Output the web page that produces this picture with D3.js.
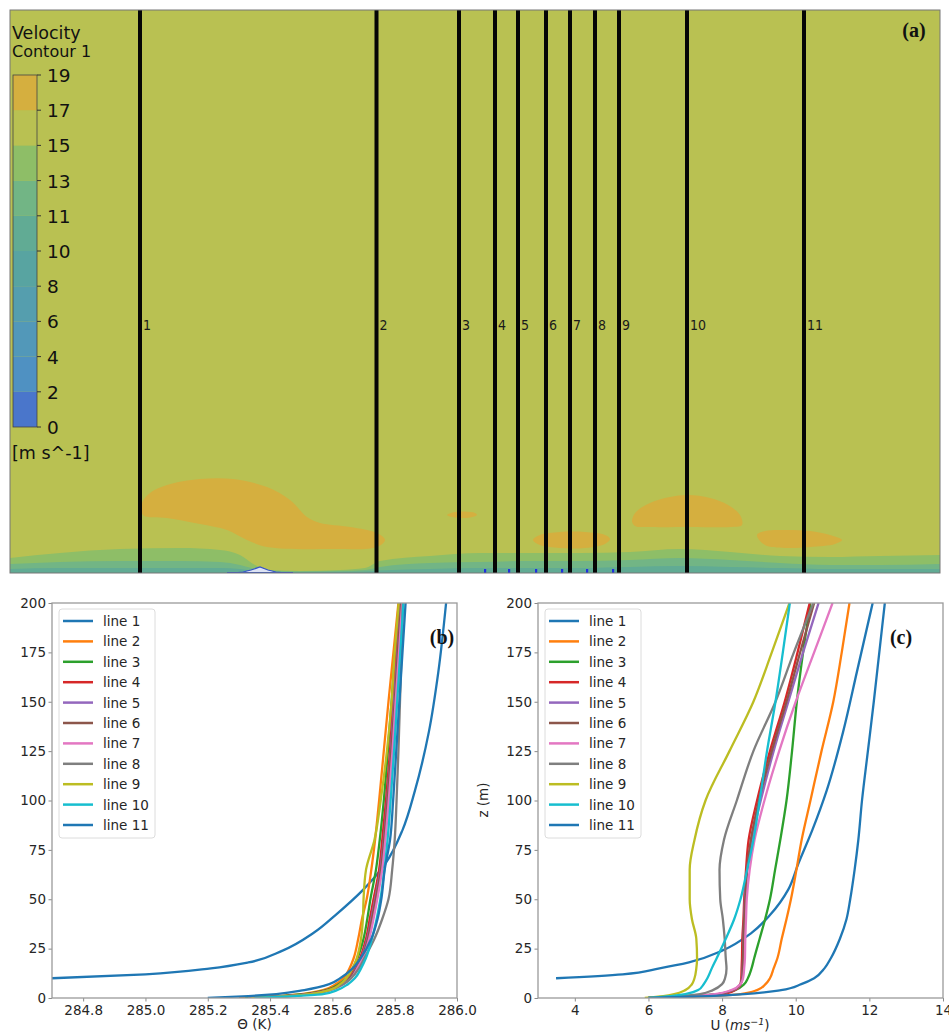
<!DOCTYPE html>
<html>
<head>
<meta charset="utf-8">
<script src="https://cdn.jsdelivr.net/npm/d3@7"></script>
<style>
  body { margin: 0; background: #fff; }
  svg { display: block; }
</style>
</head>
<body>
<svg id="fig" width="949" height="1034"></svg>
<script>
// ---------- (a) velocity contour ----------
const probeLabels = ['1', '2', '3', '4', '5', '6', '7', '8', '9', '10', '11'];
const probePositions = [130, 366.5, 449, 485, 508, 536, 560, 585, 609, 677, 794];
const colorLevels = [0, 2, 4, 6, 8, 10, 11, 13, 15, 17, 19];
const bandColors = ['#4a76cb', '#4f91c2', '#5298b9', '#559eae', '#58a4a1',
                    '#61ab94', '#72b585', '#8ebe67', '#b9c152', '#d5af3f'];

// near-ground velocity bands: top height of each band along the domain
const bandX    = [0, 50, 110, 170, 210, 230, 245, 260, 290, 330, 355, 370, 420, 470, 520, 570, 620, 670, 720, 770, 820, 870, 930];
const band13Top = [15, 20, 24, 25, 23, 18, 8, 3, 2, 3, 5, 12, 17, 20, 20, 20, 21, 24, 21, 17, 16, 17, 18];
const band11Top = [9, 11, 12, 12, 11, 8, 4, 2, 1.5, 2, 3, 6, 10, 11, 12, 12, 13, 15, 13, 10, 8, 8, 9];
const band10Top = [4, 5, 5, 5, 5, 4, 2, 1, 1, 1, 1.5, 2.5, 4, 5, 5, 5, 6, 7, 6, 5, 4, 4, 4];

// high-speed (17-19) pockets
const jetWake = [[132, 70], [140, 80], [157, 88], [190, 94], [223, 94], [257, 86], [280, 73], [297, 56],
                 [310, 50], [340, 46], [367, 40], [375, 33], [367, 26], [323, 24], [257, 26], [237, 33],
                 [217, 43], [190, 49], [157, 55], [133, 58]];
const jetSmall = [[437, 58], [445, 61], [455, 61.5], [465, 60], [467, 58], [460, 55.5], [445, 55.5]];
const jetMid   = [[523, 33], [530, 38], [550, 41], [575, 41], [595, 38], [600, 34], [595, 29], [575, 25], [550, 25], [530, 28]];
const jetDome  = [[622, 52], [626, 61], [640, 70], [660, 76], [678, 78], [700, 75], [718, 68], [730, 58],
                  [732, 48], [720, 46], [680, 46], [640, 46], [625, 47]];
const jetRight = [[747, 38], [755, 42], [775, 43], [800, 42], [820, 38], [832, 33], [825, 29], [800, 26], [775, 25], [755, 28]];
const hillProfile = [[223, 0], [233, 1], [241, 3], [250, 6], [258, 3], [266, 1], [277, 0]];
const obstacleX = [475, 499, 526, 552, 577, 603];

// ---------- (b), (c) profiles ----------
const lineNames = ['line 1', 'line 2', 'line 3', 'line 4', 'line 5', 'line 6',
                   'line 7', 'line 8', 'line 9', 'line 10', 'line 11'];
const palette = ['#1f77b4', '#ff7f0e', '#2ca02c', '#d62728', '#9467bd', '#8c564b',
                 '#e377c2', '#7f7f7f', '#bcbd22', '#17becf', '#1f77b4'];

const zLine1 = [10, 12, 15, 18, 24, 33, 42, 55, 68, 85, 105, 135, 165, 200];
const thetaLine1 = [284.70, 285.00, 285.21, 285.33, 285.44, 285.54, 285.61, 285.70, 285.77, 285.825, 285.865, 285.91, 285.94, 285.965];
const uLine1 = [3.49, 5.3, 6.3, 7.1, 8.0, 8.8, 9.3, 9.8, 10.07, 10.45, 10.84, 11.29, 11.66, 12.09];

const zLevels = [0, 1, 2, 4, 7, 10, 15, 20, 30, 40, 50, 65, 80, 100, 125, 150, 175, 200];
const thetaProfiles = [
  [285.30, 285.42, 285.50, 285.57, 285.61, 285.635, 285.655, 285.668, 285.683, 285.695, 285.71, 285.725, 285.737, 285.75, 285.765, 285.78, 285.796, 285.812],
  [285.32, 285.44, 285.51, 285.58, 285.62, 285.645, 285.665, 285.68, 285.70, 285.712, 285.722, 285.74, 285.752, 285.765, 285.778, 285.79, 285.802, 285.815],
  [285.33, 285.45, 285.52, 285.585, 285.625, 285.65, 285.672, 285.688, 285.708, 285.72, 285.732, 285.75, 285.76, 285.772, 285.785, 285.795, 285.806, 285.818],
  [285.335, 285.455, 285.525, 285.59, 285.63, 285.655, 285.676, 285.692, 285.712, 285.725, 285.737, 285.754, 285.765, 285.776, 285.788, 285.798, 285.809, 285.82],
  [285.335, 285.455, 285.525, 285.59, 285.63, 285.655, 285.677, 285.694, 285.714, 285.727, 285.739, 285.756, 285.766, 285.777, 285.789, 285.80, 285.81, 285.821],
  [285.34, 285.46, 285.53, 285.595, 285.635, 285.66, 285.68, 285.697, 285.718, 285.732, 285.744, 285.76, 285.77, 285.781, 285.793, 285.803, 285.814, 285.824],
  [285.33, 285.45, 285.53, 285.59, 285.635, 285.66, 285.685, 285.702, 285.735, 285.76, 285.78, 285.792, 285.80, 285.806, 285.812, 285.817, 285.822, 285.826],
  [285.34, 285.46, 285.53, 285.59, 285.625, 285.645, 285.665, 285.678, 285.692, 285.698, 285.70, 285.708, 285.735, 285.755, 285.775, 285.79, 285.80, 285.813],
  [285.35, 285.48, 285.57, 285.615, 285.65, 285.672, 285.692, 285.707, 285.727, 285.742, 285.754, 285.767, 285.777, 285.787, 285.798, 285.808, 285.818, 285.828],
  [285.20, 285.33, 285.42, 285.51, 285.59, 285.625, 285.665, 285.69, 285.725, 285.745, 285.757, 285.768, 285.785, 285.795, 285.805, 285.815, 285.825, 285.835]
];
const uProfiles = [
  [6.0, 7.6, 8.5, 8.95, 9.18, 9.3, 9.4, 9.5, 9.62, 9.75, 9.87, 10.02, 10.16, 10.4, 10.7, 11.02, 11.25, 11.46],
  [6.0, 7.0, 7.9, 8.35, 8.6, 8.7, 8.8, 8.87, 9.02, 9.17, 9.3, 9.44, 9.58, 9.75, 9.9, 10.03, 10.2, 10.4],
  [6.0, 7.3, 8.0, 8.35, 8.5, 8.52, 8.53, 8.54, 8.55, 8.58, 8.6, 8.65, 8.72, 8.95, 9.3, 9.7, 10.05, 10.38],
  [6.0, 7.2, 7.9, 8.3, 8.5, 8.54, 8.56, 8.57, 8.58, 8.6, 8.62, 8.68, 8.8, 9.05, 9.4, 9.8, 10.2, 10.62],
  [6.0, 7.2, 7.9, 8.3, 8.5, 8.55, 8.56, 8.57, 8.58, 8.6, 8.63, 8.68, 8.78, 9.0, 9.35, 9.75, 10.12, 10.5],
  [6.0, 7.1, 7.8, 8.25, 8.5, 8.57, 8.6, 8.62, 8.63, 8.65, 8.67, 8.75, 8.88, 9.15, 9.55, 10.0, 10.5, 11.0],
  [6.0, 6.9, 7.4, 7.75, 8.0, 8.08, 8.12, 8.1, 8.07, 8.02, 7.95, 7.93, 8.05, 8.4, 8.85, 9.45, 9.95, 10.48],
  [5.9, 6.4, 6.7, 7.0, 7.18, 7.25, 7.3, 7.32, 7.3, 7.18, 7.12, 7.12, 7.25, 7.55, 8.2, 8.85, 9.35, 9.83],
  [6.0, 6.6, 7.0, 7.35, 7.5, 7.6, 7.72, 7.85, 8.1, 8.33, 8.5, 8.68, 8.85, 9.02, 9.22, 9.45, 9.65, 9.84],
  [6.0, 7.6, 8.6, 9.6, 10.15, 10.5, 10.78, 10.95, 11.2, 11.38, 11.48, 11.6, 11.7, 11.8, 11.96, 12.12, 12.27, 12.42]
];
const zTicks = [0, 25, 50, 75, 100, 125, 150, 175, 200];
const thetaTicks = [284.8, 285.0, 285.2, 285.4, 285.6, 285.8, 286.0];
const uTicks = [4, 6, 8, 10, 12, 14];

const svg = d3.select('#fig');
const SANS = '"DejaVu Sans", Verdana, sans-serif';

// ===== panel (a) =====
const xa = d3.scaleLinear().domain([0, 930]).range([10, 940]);
const ya = d3.scaleLinear().domain([0, 563]).range([573, 10]);
const gA = svg.append('g');
gA.append('defs').append('clipPath').attr('id', 'clipA')
  .append('rect').attr('x', xa(0)).attr('y', ya(563)).attr('width', xa(930) - xa(0)).attr('height', ya(0) - ya(563));
const fieldG = gA.append('g').attr('clip-path', 'url(#clipA)');
fieldG.append('rect').attr('x', xa(0)).attr('y', ya(563))
  .attr('width', xa(930) - xa(0)).attr('height', ya(0) - ya(563)).attr('fill', bandColors[8]);

const bandArea = d3.area().x(d => xa(d[0])).y0(ya(0)).y1(d => ya(d[1])).curve(d3.curveMonotoneX);
[[band13Top, bandColors[7]], [band11Top, bandColors[6]], [band10Top, bandColors[5]]].forEach(([tops, c]) => {
  fieldG.append('path').attr('d', bandArea(bandX.map((x, i) => [x, tops[i]]))).attr('fill', c);
});
const blobLine = d3.line().x(d => xa(d[0])).y(d => ya(d[1])).curve(d3.curveCatmullRomClosed.alpha(0.5));
[jetWake, jetSmall, jetMid, jetDome, jetRight].forEach(poly => {
  fieldG.append('path').attr('d', blobLine(poly)).attr('fill', bandColors[9]);
});
// terrain bump
fieldG.append('path')
  .attr('d', d3.line().x(d => xa(d[0])).y(d => ya(d[1])).curve(d3.curveLinear)(hillProfile) + 'Z')
  .attr('fill', '#dde3f4').attr('stroke', '#3553c9').attr('stroke-width', 1.2);
fieldG.append('line').attr('x1', xa(hillProfile[0][0]) - 6).attr('x2', xa(hillProfile[hillProfile.length - 1][0]) + 6)
  .attr('y1', ya(0) - 0.5).attr('y2', ya(0) - 0.5).attr('stroke', '#3553c9').attr('stroke-width', 1.2);
obstacleX.forEach(x => {
  fieldG.append('rect').attr('x', xa(x) - 1).attr('y', ya(4)).attr('width', 2.2).attr('height', ya(0) - ya(4))
    .attr('fill', '#1f2fe0');
});
// probe lines
probePositions.forEach((p, i) => {
  fieldG.append('line').attr('x1', xa(p)).attr('x2', xa(p)).attr('y1', ya(0)).attr('y2', ya(563))
    .attr('stroke', '#050505').attr('stroke-width', 4);
  gA.append('text').attr('x', xa(p) + 3).attr('y', 330)
    .attr('font-family', '"DejaVu Sans", sans-serif').attr('font-stretch', 'condensed')
    .attr('font-size', 14).attr('fill', '#1a1a1a').text(probeLabels[i]);
});
gA.append('rect').attr('x', xa(0)).attr('y', ya(563))
  .attr('width', xa(930) - xa(0)).attr('height', ya(0) - ya(563))
  .attr('fill', 'none').attr('stroke', '#777').attr('stroke-width', 1);

// colour bar
const cb = d3.scaleLinear().domain([0, colorLevels.length - 1]).range([427, 75]);
const cbG = gA.append('g');
bandColors.forEach((c, i) => {
  cbG.append('rect').attr('x', 13).attr('width', 24)
    .attr('y', cb(i + 1)).attr('height', cb(i) - cb(i + 1)).attr('fill', c);
});
cbG.append('rect').attr('x', 13).attr('width', 24).attr('y', cb(10)).attr('height', cb(0) - cb(10))
  .attr('fill', 'none').attr('stroke', '#444').attr('stroke-width', 0.8);
colorLevels.forEach((v, i) => {
  cbG.append('line').attr('x1', 37).attr('x2', 41).attr('y1', cb(i)).attr('y2', cb(i))
    .attr('stroke', '#333').attr('stroke-width', 1);
  cbG.append('text').attr('x', 47).attr('y', cb(i) + 7).attr('font-family', SANS)
    .attr('font-size', 18.5).attr('fill', '#111').text(v);
});
gA.append('text').attr('x', 12).attr('y', 39).attr('font-family', SANS).attr('font-size', 17.5).attr('fill', '#111').text('Velocity');
gA.append('text').attr('x', 12).attr('y', 57).attr('font-family', SANS).attr('font-size', 16).attr('fill', '#111').text('Contour 1');
gA.append('text').attr('x', 12).attr('y', 459).attr('font-family', SANS).attr('font-size', 17.5).attr('fill', '#111').text('[m s^-1]');
gA.append('text').attr('x', 914).attr('y', 37).attr('text-anchor', 'middle')
  .attr('font-family', '"Liberation Serif", "Times New Roman", serif').attr('font-weight', 'bold')
  .attr('font-size', 20).attr('fill', '#111').text('(a)');

// ===== panels (b) and (c) =====
function profilePanel(cfg) {
  const g = svg.append('g');
  const x = d3.scaleLinear().domain(cfg.xDomain).range([cfg.left, cfg.right]);
  const y = d3.scaleLinear().domain([0, 200]).range([998, 603]);
  g.append('defs').append('clipPath').attr('id', cfg.id)
    .append('rect').attr('x', cfg.left).attr('y', 603).attr('width', cfg.right - cfg.left).attr('height', 395);

  const line = d3.line().x(d => x(d[0])).y(d => y(d[1])).curve(d3.curveMonotoneY);
  const plot = g.append('g').attr('clip-path', `url(#${cfg.id})`);
  cfg.series.forEach((s, i) => {
    plot.append('path').attr('d', line(s)).attr('fill', 'none')
      .attr('stroke', palette[i]).attr('stroke-width', 2.3).attr('stroke-linejoin', 'round');
  });

  const xAxis = g.append('g').attr('transform', 'translate(0,998)')
    .call(d3.axisBottom(x).tickValues(cfg.xTicks).tickFormat(cfg.xFormat).tickSize(3.5).tickPadding(3.5));
  const yAxis = g.append('g').attr('transform', `translate(${cfg.left},0)`)
    .call(d3.axisLeft(y).tickValues(zTicks).tickSize(3.5).tickPadding(2.5));
  [xAxis, yAxis].forEach(a => {
    a.select('.domain').remove();
    a.selectAll('.tick line').attr('stroke', '#8a8a8a').attr('stroke-width', 1);
    a.selectAll('.tick text').attr('font-family', SANS).attr('font-size', 13.5).attr('fill', '#262626');
  });
  g.append('rect').attr('x', cfg.left).attr('y', 603).attr('width', cfg.right - cfg.left).attr('height', 395)
    .attr('fill', 'none').attr('stroke', '#9a9a9a').attr('stroke-width', 1.3);

  // legend
  const lg = g.append('g');
  const lx = cfg.left + 7;
  lg.append('rect').attr('x', lx).attr('y', 609).attr('width', 96).attr('height', 229).attr('rx', 3)
    .attr('fill', '#fff').attr('fill-opacity', 0.8).attr('stroke', '#dcdcdc').attr('stroke-width', 1);
  lineNames.forEach((name, i) => {
    const yy = 621 + i * 20.4;
    lg.append('line').attr('x1', lx + 4).attr('x2', lx + 34).attr('y1', yy).attr('y2', yy)
      .attr('stroke', palette[i]).attr('stroke-width', 2.5);
    lg.append('text').attr('x', lx + 44).attr('y', yy + 5).attr('font-family', SANS)
      .attr('font-size', 13.5).attr('fill', '#262626').text(name);
  });

  g.append('text').attr('x', cfg.tagX).attr('y', 644).attr('text-anchor', 'middle')
    .attr('font-family', '"Liberation Serif", "Times New Roman", serif').attr('font-weight', 'bold')
    .attr('font-size', 20).attr('fill', '#111').text(cfg.tag);
  return g;
}

const thetaSeries = [zLine1.map((z, i) => [thetaLine1[i], z])]
  .concat(thetaProfiles.map(p => zLevels.map((z, i) => [p[i], z])));
const uSeries = [zLine1.map((z, i) => [uLine1[i], z])]
  .concat(uProfiles.map(p => zLevels.map((z, i) => [p[i], z])));

const gB = profilePanel({
  id: 'clipB', left: 52, right: 457, xDomain: [284.7, 286.0], xTicks: thetaTicks,
  xFormat: d3.format('.1f'), series: thetaSeries, tag: '(b)', tagX: 442
});
gB.append('text').attr('x', 254.5).attr('y', 1029).attr('text-anchor', 'middle')
  .attr('font-family', SANS).attr('font-size', 13.5).attr('fill', '#262626').text('Θ (K)');

const gC = profilePanel({
  id: 'clipC', left: 538, right: 943, xDomain: [3, 14], xTicks: uTicks,
  xFormat: d3.format('d'), series: uSeries, tag: '(c)', tagX: 901
});
const uLabel = gC.append('text').attr('x', 740).attr('y', 1030).attr('text-anchor', 'middle')
  .attr('font-family', SANS).attr('font-size', 13.5).attr('fill', '#262626');
uLabel.append('tspan').text('U (');
uLabel.append('tspan').attr('font-style', 'italic').text('ms');
uLabel.append('tspan').attr('font-style', 'italic').attr('font-size', 9.5).attr('dy', -5).text('−1');
uLabel.append('tspan').attr('dy', 5).text(')');
gC.append('text').attr('transform', 'translate(488,800) rotate(-90)').attr('text-anchor', 'middle')
  .attr('font-family', SANS).attr('font-size', 13.5).attr('fill', '#262626').text('z (m)');
</script>
</body>
</html>
